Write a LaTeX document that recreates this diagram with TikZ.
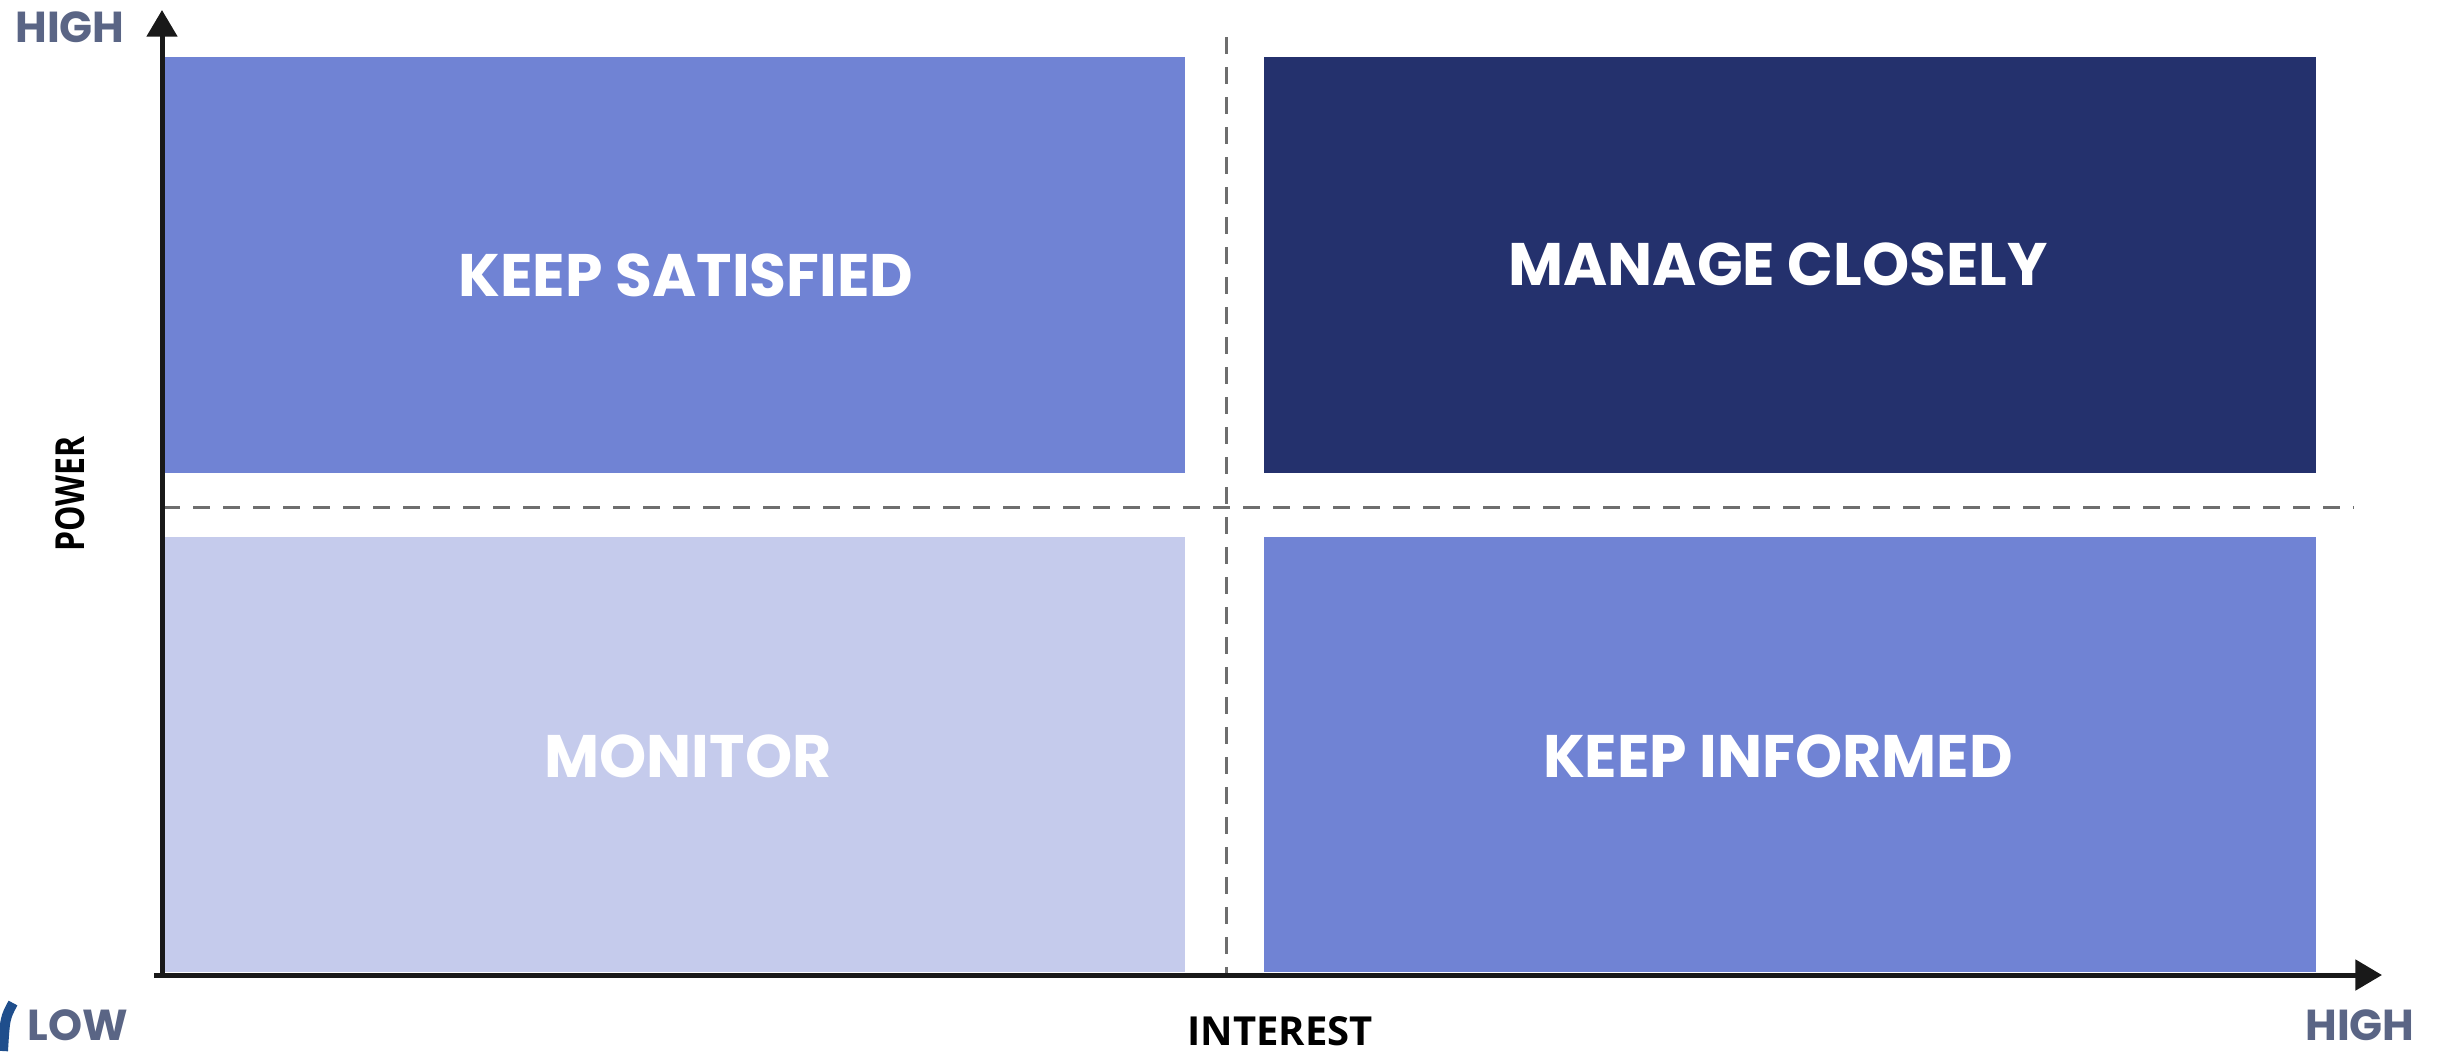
\documentclass[tikz,border=0pt]{standalone}
\usepackage{fontspec}
\setmainfont{Poppins}
\newfontfamily\axisfont{Open Sans}
\usetikzlibrary{arrows.meta}
\definecolor{midblue}{HTML}{7083D4}
\definecolor{navy}{HTML}{24316D}
\definecolor{lightblue}{HTML}{C5CBEC}
\definecolor{labgray}{HTML}{5A6585}
\definecolor{dashgray}{HTML}{6E6E6E}
\definecolor{logoblue}{HTML}{1F4E8C}
\tikzset{
  quadtext/.style={text=white, font=\fontsize{18}{21}\selectfont\bfseries},
  endlabel/.style={text=labgray, inner sep=0pt, font=\fontsize{13}{15}\selectfont\bfseries},
  axislabel/.style={text=black, inner sep=0pt, font=\axisfont\bfseries\fontsize{12}{14}\selectfont},
  axisline/.style={line width=1.5pt, draw=black!90, -{Triangle[length=8pt,width=9pt]}},
  divider/.style={dashgray, line width=0.9pt, dash pattern=on 5pt off 4pt}
}
\begin{document}
\begin{tikzpicture}[x=0.3pt,y=-0.3pt]
\useasboundingbox[fill=white] (0,0) rectangle (2438,1051);
% quadrants
\fill[midblue] (165,57) rectangle (1185,473);
\fill[navy] (1264,57) rectangle (2316,473);
\fill[lightblue] (165,537) rectangle (1185,972);
\fill[midblue] (1264,537) rectangle (2316,972);
\node[quadtext] (ks) at (686,275) {KEEP SATISFIED};
\node[quadtext] (mc) at (1778,264) {MANAGE CLOSELY};
\node[quadtext] (mo) at (688,756) {MONITOR};
\node[quadtext] (ki) at (1778,756) {KEEP INFORMED};
% dividers
\coordinate (vtop) at (1226,37);
\coordinate (vbot) at (1226,975);
\coordinate (hl) at (163,507);
\coordinate (hr) at (2354,507);
\draw[divider] (vtop) -- (vbot);
\draw[divider] (hl) -- (hr);
% axes
\coordinate (origin) at (162,975);
\coordinate (ytip) at (162,10);
\coordinate (xtip) at (2382,975);
\draw[axisline] (origin) -- (ytip);
\draw[axisline] ([xshift=-2.4pt]origin) -- (xtip);
% labels
\node[endlabel] (yhigh) at (70,27) {HIGH};
\node[endlabel] (low) at (78,1025) {LOW};
\node[endlabel] (xhigh) at (2360,1025) {HIGH};
\node[axislabel] (interest) at (1280,1031) {INTEREST};
\node[axislabel, rotate=90] (power) at (70,494) {\scalebox{0.8}[1]{POWER}};
% cut-off logo fragment at the lower left edge
\coordinate (logoA) at (13,1003);
\coordinate (logoB) at (3,1051);
\draw[logoblue, line width=3pt] (logoA) .. controls (5,1018) .. (logoB);
\end{tikzpicture}
\end{document}
